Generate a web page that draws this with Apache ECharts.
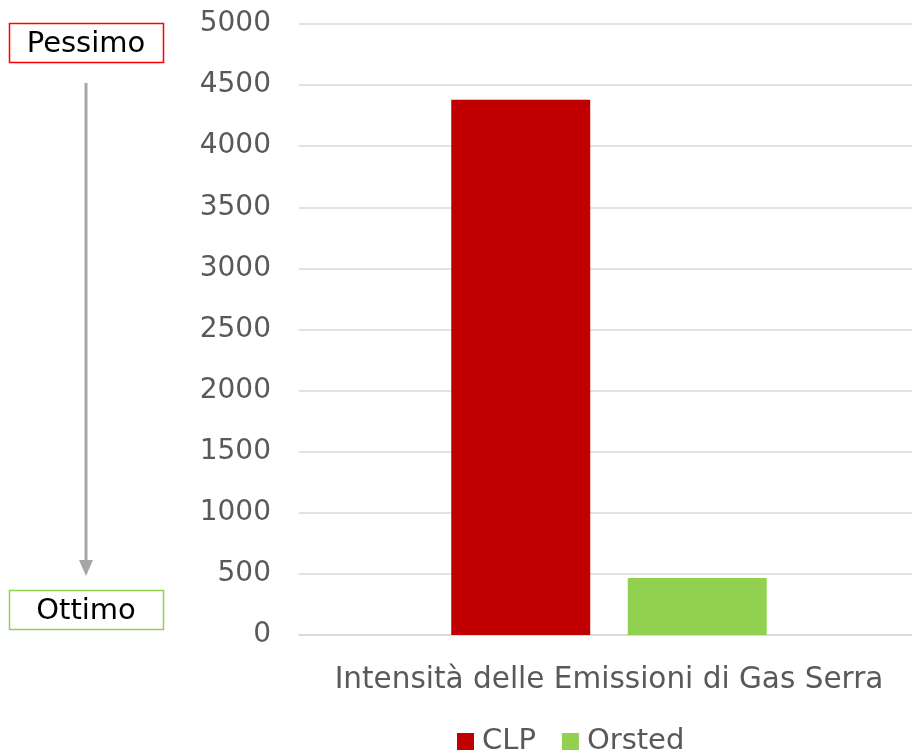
<!DOCTYPE html>
<html><head><meta charset="utf-8">
<script src="https://cdn.jsdelivr.net/npm/echarts@6/dist/echarts.min.js"></script>
<style>html,body{margin:0;padding:0;background:#fff}#c{width:912px;height:754px}</style>
</head><body><div id="c"></div>
<script>
const categories = ['Intensità delle Emissioni di Gas Serra'];
const seriesNames = ['CLP', 'Orsted'];
const clpValues = [4380];
const orstedValues = [466];
const yTicks = { min: 0, max: 5000, interval: 500 };
const topLabel = 'Pessimo';
const bottomLabel = 'Ottimo';

const FONT = 'DejaVu Sans';
const chart = echarts.init(document.getElementById('c'));
chart.setOption({
  animation: false,
  textStyle: { fontFamily: FONT },
  grid: { left: 299, right: -7, top: 24, bottom: 119, containLabel: false, outerBoundsMode: 'none' },
  legend: {
    data: seriesNames, left: 452, top: 722, itemWidth: 17, itemHeight: 17, itemGap: 26,
    icon: 'rect',
    textStyle: { fontFamily: FONT, fontSize: 29, color: '#595959', padding: [0, 0, 0, 3] }
  },
  xAxis: {
    type: 'category', data: categories,
    axisLine: { lineStyle: { color: '#d9d9d9', width: 1.5 } },
    axisTick: { show: false },
    axisLabel: { fontFamily: FONT, fontSize: 29.5, color: '#595959', margin: 30 }
  },
  yAxis: {
    type: 'value', min: yTicks.min, max: yTicks.max, interval: yTicks.interval,
    axisLine: { show: false }, axisTick: { show: false },
    splitLine: { lineStyle: { color: '#d9d9d9', width: 1.5 } },
    axisLabel: { fontFamily: FONT, fontSize: 28, color: '#595959', margin: 28, formatter: v => String(v) }
  },
  series: [
    { name: seriesNames[0], type: 'bar', data: clpValues, barWidth: 139, barGap: '27%', itemStyle: { color: '#c00000' } },
    { name: seriesNames[1], type: 'bar', data: orstedValues, barWidth: 139, itemStyle: { color: '#92d050' } }
  ],
  graphic: [
    { type: 'rect', shape: { x: 9.5, y: 23.5, width: 154, height: 39 }, style: { fill: '#fff', stroke: '#ff0000', lineWidth: 1.5 } },
    { type: 'text', x: 86, y: 44, style: { text: topLabel, fontFamily: FONT, fontSize: 29, fill: '#000', align: 'center', verticalAlign: 'middle' } },
    { type: 'line', shape: { x1: 86, y1: 83, x2: 86, y2: 562 }, style: { stroke: '#a6a6a6', lineWidth: 3 } },
    { type: 'polygon', shape: { points: [[79, 560], [93, 560], [86, 576]] }, style: { fill: '#a6a6a6' } },
    { type: 'rect', shape: { x: 9.5, y: 590.5, width: 154, height: 39 }, style: { fill: '#fff', stroke: '#92d050', lineWidth: 1.5 } },
    { type: 'text', x: 86, y: 611, style: { text: bottomLabel, fontFamily: FONT, fontSize: 29, fill: '#000', align: 'center', verticalAlign: 'middle' } }
  ]
});
</script></body></html>
